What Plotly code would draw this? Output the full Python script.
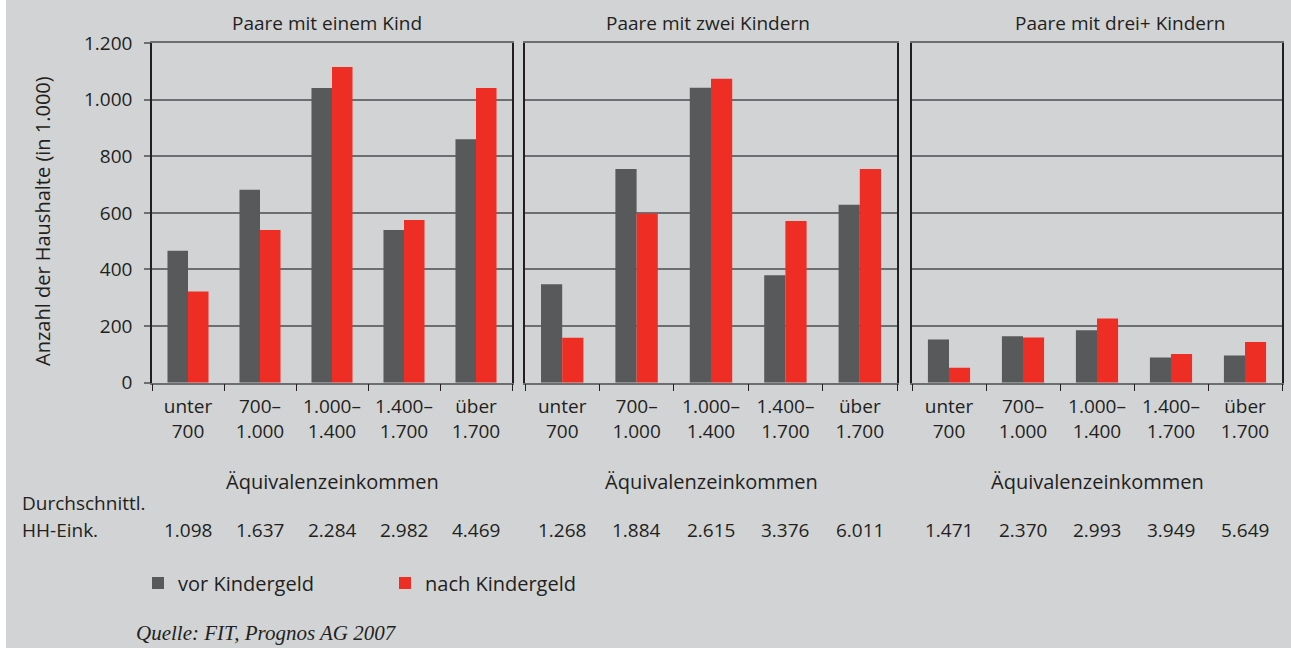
import plotly.graph_objects as go

W, H = 1291, 648

# ---------------- data ----------------
categories = ["unter<br>700", "700–<br>1.000", "1.000–<br>1.400", "1.400–<br>1.700", "über<br>1.700"]
panel_titles = ["Paare mit einem Kind", "Paare mit zwei Kindern", "Paare mit drei+ Kindern"]

vor_einem_kind = [466, 682, 1041, 539, 860]
nach_einem_kind = [322, 539, 1115, 575, 1041]
vor_zwei_kinder = [348, 755, 1042, 380, 629]
nach_zwei_kinder = [159, 598, 1074, 571, 755]
vor_drei_kinder = [153, 164, 185, 89, 96]
nach_drei_kinder = [53, 160, 227, 101, 144]

hh_eink_einem_kind = [1098, 1637, 2284, 2982, 4469]
hh_eink_zwei_kinder = [1268, 1884, 2615, 3376, 6011]
hh_eink_drei_kinder = [1471, 2370, 2993, 3949, 5649]

y_ticks = [0, 200, 400, 600, 800, 1000, 1200]

series_names = ["vor Kindergeld", "nach Kindergeld"]
# --------------------------------------

vor = [vor_einem_kind, vor_zwei_kinder, vor_drei_kinder]
nach = [nach_einem_kind, nach_zwei_kinder, nach_drei_kinder]
eink = [hh_eink_einem_kind, hh_eink_zwei_kinder, hh_eink_drei_kinder]

BG = "#d1d3d4"
DARK = "#58595b"
RED = "#ee2e24"
TXT = "#231f20"
GRID = "#6d6e71"
FONT = "Open Sans"
FS = 19

def px(x):
    return x / W

def py(y):
    return 1 - y / H

x_domains = [(152, 512), (525, 897), (912, 1282)]
y_domain = [py(382.7), py(43)]
title_x = [327, 708, 1120]

fig = go.Figure()

for i in range(3):
    xa = "x" if i == 0 else f"x{i+1}"
    ya = "y" if i == 0 else f"y{i+1}"
    fig.add_trace(go.Bar(x=categories, y=vor[i], name=series_names[0], marker_color=DARK,
                         marker_line_width=0, xaxis=xa, yaxis=ya, legendgroup="vor",
                         showlegend=(i == 0)))
    fig.add_trace(go.Bar(x=categories, y=nach[i], name=series_names[1], marker_color=RED,
                         marker_line_width=0, xaxis=xa, yaxis=ya, legendgroup="nach",
                         showlegend=(i == 0)))

layout = dict(
    width=W, height=H,
    autosize=False,
    margin=dict(l=0, r=0, t=0, b=0, pad=0, autoexpand=False),
    paper_bgcolor=BG, plot_bgcolor=BG,
    separators=",.",
    barmode="group", bargap=0.43, bargroupgap=0,
    font=dict(family=FONT, size=FS, color=TXT),
    showlegend=True,
    legend=dict(orientation="h", x=px(138), xanchor="left", y=py(583), yanchor="middle",
                bgcolor="rgba(0,0,0,0)", font=dict(family=FONT, size=FS + 1, color=TXT),
                entrywidth=202, itemclick=False),
)

annotations = []
for i in range(3):
    sfx = "" if i == 0 else str(i + 1)
    layout[f"xaxis{sfx}"] = dict(
        domain=[px(x_domains[i][0]), px(x_domains[i][1])],
        anchor=f"y{sfx}",
        type="category",
        automargin=False,
        showline=True, linecolor=GRID, linewidth=1.5, mirror=True,
        ticks="outside", tickson="boundaries", ticklen=7, tickcolor="#231f20", tickwidth=1,
        showgrid=False, tickfont=dict(family=FONT, size=FS, color=TXT),
        ticklabelstandoff=6,
        fixedrange=True,
    )
    layout[f"yaxis{sfx}"] = dict(
        domain=y_domain,
        anchor=f"x{sfx}",
        automargin=False,
        range=[0, 1200],
        tickvals=y_ticks,
        tickformat=",d",
        showline=True, linecolor="#231f20", linewidth=1.5, mirror=True,
        showgrid=True, gridcolor=GRID, gridwidth=1.5,
        zeroline=False,
        ticks="outside" if i == 0 else "",
        ticklen=6, tickcolor=GRID, tickwidth=1.5,
        showticklabels=(i == 0),
        ticklabelstandoff=8,
        tickfont=dict(family=FONT, size=FS, color=TXT),
        fixedrange=True,
    )
    # panel title
    annotations.append(dict(text=panel_titles[i], x=px(title_x[i]), y=py(23),
                            xref="paper", yref="paper", showarrow=False,
                            xanchor="center", yanchor="middle",
                            font=dict(family=FONT, size=FS, color=TXT)))
    # axis caption
    annotations.append(dict(text="Äquivalenzeinkommen", x=0.5, y=py(481),
                            xref=f"x{sfx} domain", yref="paper", showarrow=False,
                            xanchor="center", yanchor="middle",
                            font=dict(family=FONT, size=FS + 1, color=TXT)))
    # average household income per category
    for cat, val in zip(categories, eink[i]):
        annotations.append(dict(text=f"{val:,}".replace(",", "."), x=cat, y=py(530),
                                xref=f"x{sfx}", yref="paper", showarrow=False,
                                xanchor="center", yanchor="middle",
                                font=dict(family=FONT, size=FS, color=TXT)))

annotations += [
    dict(text="Anzahl der Haushalte (in 1.000)", x=px(42), y=py(221), xref="paper", yref="paper",
         textangle=-90, showarrow=False, xanchor="center", yanchor="middle",
         font=dict(family=FONT, size=FS + 1, color=TXT)),
    dict(text="Durchschnittl.", x=px(20), y=py(503), xref="paper", yref="paper",
         showarrow=False, xanchor="left", yanchor="middle",
         font=dict(family=FONT, size=FS, color=TXT)),
    dict(text="HH-Eink.", x=px(20), y=py(530), xref="paper", yref="paper",
         showarrow=False, xanchor="left", yanchor="middle",
         font=dict(family=FONT, size=FS, color=TXT)),
    dict(text="<i>Quelle: FIT, Prognos AG 2007</i>", x=px(134), y=py(633), xref="paper", yref="paper",
         showarrow=False, xanchor="left", yanchor="middle",
         font=dict(family="Liberation Serif", size=21, color=TXT)),
]
layout["annotations"] = annotations
layout["shapes"] = [dict(type="rect", xref="paper", yref="paper", x0=0, x1=px(6), y0=0, y1=1,
                         fillcolor="#ffffff", line_width=0, layer="below")]

fig.update_layout(**layout)
fig.write_html("out.html", config={"responsive": False, "displayModeBar": False},
               post_script="document.body.style.margin='0px';document.body.style.overflow='hidden';")
